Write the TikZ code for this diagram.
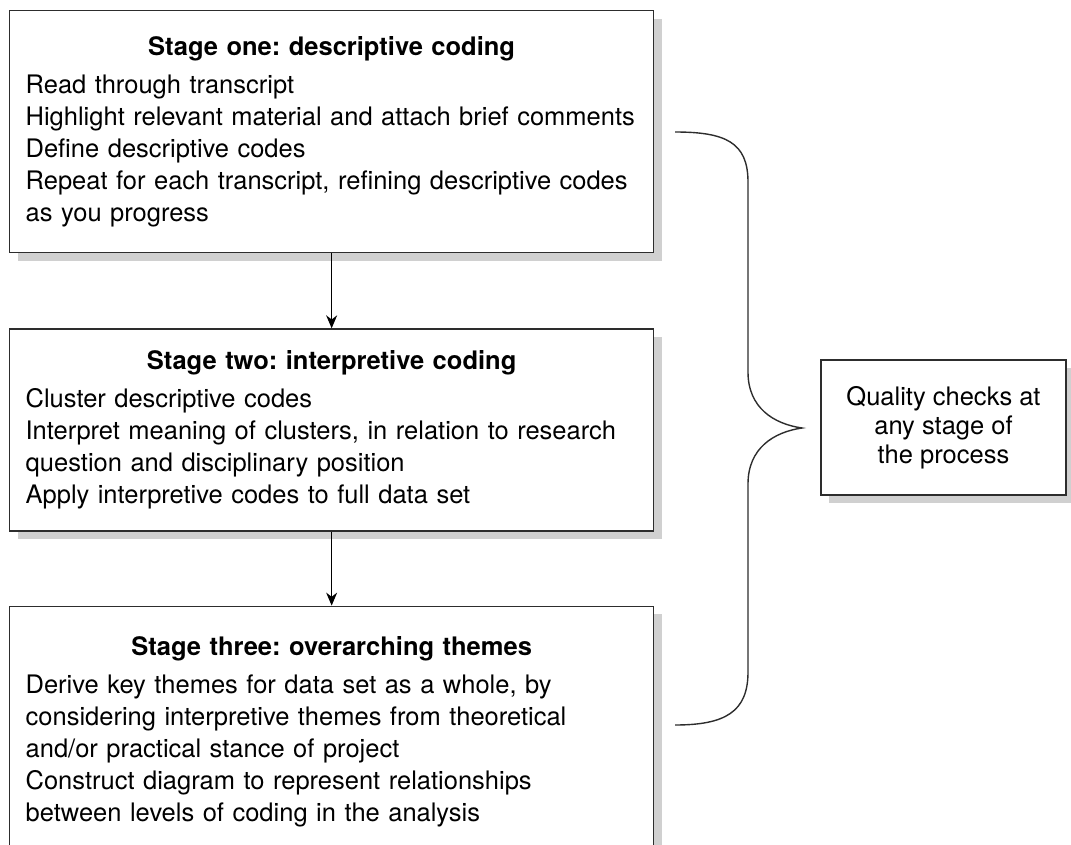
\documentclass[tikz,border=0pt]{standalone}
\usepackage{fontspec}
\setmainfont{TeX Gyre Heros}
\usepackage{xcolor}
\usepackage{tikz}
\usetikzlibrary{arrows.meta,positioning,shadows}
\definecolor{boxedge}{RGB}{45,45,45}
\definecolor{shadowgrey}{RGB}{208,208,208}
\frenchspacing

\begin{document}
\begin{tikzpicture}[
    x=1pt, y=-1pt,
    node distance=75pt,
    every node/.style={font=\fontsize{25.5}{32}\selectfont},
    stagebox/.style={rectangle, draw=boxedge, fill=white, line width=1.3pt, text width=612pt, inner xsep=16pt, inner ysep=0pt, align=left, drop shadow={shadow xshift=8pt, shadow yshift=-8pt, fill=shadowgrey, opacity=1}},
    checkbox/.style={rectangle, draw=boxedge, fill=white, line width=1.3pt, minimum width=245pt, minimum height=135pt, align=center, font=\fontsize{25.5}{29}\selectfont, drop shadow={shadow xshift=8pt, shadow yshift=-8pt, fill=shadowgrey, opacity=1}},
    arr/.style={-{Stealth[length=13pt,width=11pt]}, line width=1.2pt, draw=black},
    bracepath/.style={draw=boxedge, line width=1.4pt}
]
\useasboundingbox (0,0) rectangle (1071,845);
\clip (0,0) rectangle (1071,845);

\node[stagebox, minimum height=242pt, anchor=north west] (stageone) at (9,10) {{\centering\bfseries Stage one: descriptive coding\par}\vspace{6pt}
Read through transcript\\
Highlight relevant material and attach brief comments\\
Define descriptive codes\\
Repeat for each transcript, refining descriptive codes\\
as you progress};
\node[stagebox, minimum height=202pt, below=75pt of stageone] (stagetwo) {{\centering\bfseries Stage two: interpretive coding\par}\vspace{6pt}
Cluster descriptive codes\\
Interpret meaning of clusters, in relation to research\\
question and disciplinary position\\
Apply interpretive codes to full data set};
\node[stagebox, minimum height=252pt, below=74pt of stagetwo] (stagethree) {{\centering\bfseries Stage three: overarching themes\par}\vspace{6pt}
Derive key themes for data set as a whole, by\\
considering interpretive themes from theoretical\\
and/or practical stance of project\\
Construct diagram to represent relationships\\
between levels of coding in the analysis};
\node[checkbox] (quality) at (943.5,427.5) {Quality checks at\\any stage of\\the process};

\draw[arr] (stageone) -- (stagetwo);
\draw[arr] (stagetwo) -- (stagethree);

% brace round the three stages
\coordinate (bracetip) at (802,428);
\draw[bracepath] (675,132) .. controls (725,132) and (748,142) .. (748,182)
    -- (748,372) .. controls (748,408) and (774,424) .. (bracetip)
    .. controls (774,432) and (748,448) .. (748,484)
    -- (748,672) .. controls (748,712) and (725,725) .. (675,725);

\end{tikzpicture}
\end{document}
